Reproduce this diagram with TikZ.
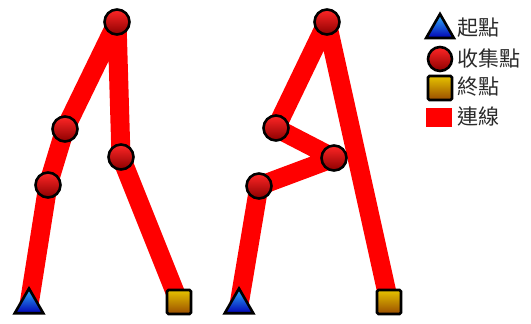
\documentclass[tikz,border=0pt]{standalone}
\usepackage{fontspec}
\newfontfamily\cjk{Noto Sans CJK TC}
\usepackage{tikz}
\usetikzlibrary{shapes.geometric,backgrounds}
\definecolor{linkred}{HTML}{FF0000}
\definecolor{txtgray}{HTML}{2A2A2A}

\begin{document}
\begin{tikzpicture}[x=1pt,y=-1pt,
  startmark/.style={regular polygon, regular polygon sides=3, draw=black, line width=2.6pt,
              top color=blue!35!cyan!80!white, bottom color=blue!70!black,
              minimum size=33pt, inner sep=0pt},
  pickmark/.style={circle, draw=black, line width=2.6pt,
              top color=red!85!white, middle color=red, bottom color=red!55!black,
              minimum size=25pt, inner sep=0pt},
  endmark/.style={rectangle, rounded corners=1.5pt, draw=black, line width=2.6pt,
              top color=yellow!70!orange!90!black, bottom color=orange!60!black,
              minimum size=24pt, inner sep=0pt},
  link/.style={linkred, line width=19pt, line join=round},
  lbl/.style={anchor=west, font=\cjk\fontsize{21}{21}\selectfont, text=txtgray, inner sep=0pt}
]
  \useasboundingbox (0,0) rectangle (531,324);
  % left route
  \node[startmark] (ls) at (29,305) {};
  \node[pickmark]  (l1) at (48,185) {};
  \node[pickmark]  (l2) at (65,129) {};
  \node[pickmark]  (l3) at (117,22) {};
  \node[pickmark]  (l4) at (121,157) {};
  \node[endmark]   (le) at (179,302) {};
  % right route
  \node[startmark] (rs) at (239,305) {};
  \node[pickmark]  (r1) at (259,186) {};
  \node[pickmark]  (r2) at (334,158) {};
  \node[pickmark]  (r3) at (276,128) {};
  \node[pickmark]  (r4) at (327,22) {};
  \node[endmark]   (re) at (389,302) {};
  \begin{scope}[on background layer]
    \draw[link] (ls.center) -- (l1.center) -- (l2.center) -- (l3.center) -- (l4.center) -- (le.center);
    \draw[link] (rs.center) -- (r1.center) -- (r2.center) -- (r3.center) -- (r4.center) -- (re.center);
  \end{scope}
  % legend
  \node[startmark, minimum size=32pt] (k1) at (440,30) {};
  \node[pickmark, minimum size=24pt]  (k2) at (440,59) {};
  \node[endmark, minimum size=24pt]   (k3) at (440,88) {};
  \node[fill=linkred, minimum width=26pt, minimum height=19pt, inner sep=0pt] (k4) at (439,117) {};
  \node[lbl] (t1) at (457,28) {起點};
  \node[lbl] (t2) at (457,58) {收集點};
  \node[lbl] (t3) at (457,87) {終點};
  \node[lbl] (t4) at (457,117) {連線};
\end{tikzpicture}
\end{document}
